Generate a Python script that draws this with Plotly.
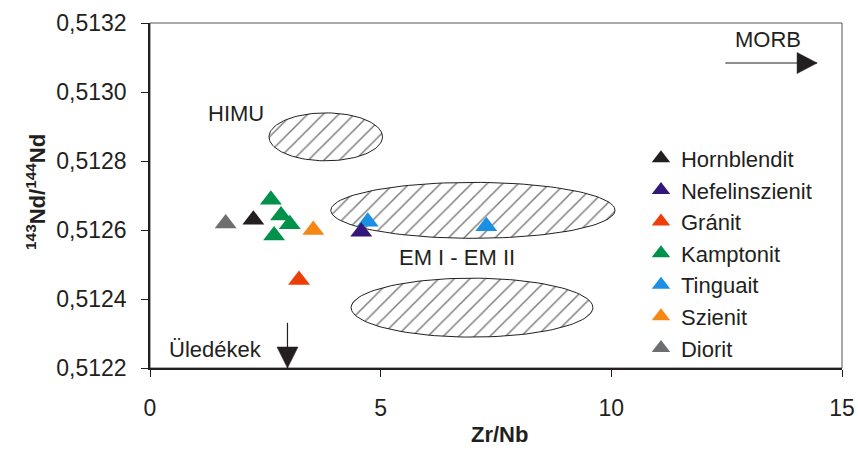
import numpy as np
import plotly.graph_objects as go

# ---- data ----
categories = ["Hornblendit", "Nefelinszienit", "Gránit", "Kamptonit", "Tinguait", "Szienit", "Diorit"]
hornblendit_x = [2.24]
hornblendit_y = [0.51263]
nefelinszienit_x = [4.58]
nefelinszienit_y = [0.512595]
granit_x = [3.23]
granit_y = [0.512455]
kamptonit_x = [2.62, 2.84, 3.03, 2.69]
kamptonit_y = [0.512688, 0.512642, 0.512617, 0.512584]
tinguait_x = [4.72, 7.29]
tinguait_y = [0.512624, 0.512611]
szienit_x = [3.54]
szienit_y = [0.5126]
diorit_x = [1.64]
diorit_y = [0.512619]

y_ticks = [0.5122, 0.5124, 0.5126, 0.5128, 0.5130, 0.5132]
x_ticks = [0, 5, 10, 15]

# reservoir fields (center x, center y, half-width, half-height)
fields = {
    "HIMU": (3.81, 0.512870, 1.23, 0.0000695),
    "EM_upper": (7.00, 0.512657, 3.08, 0.0000811),
    "EM_lower": (6.98, 0.512375, 2.62, 0.0000854),
}

colors = {
    "Hornblendit": "#231F20",
    "Nefelinszienit": "#33187A",
    "Gránit": "#EE3D06",
    "Kamptonit": "#00924A",
    "Tinguait": "#1A8FE3",
    "Szienit": "#F68712",
    "Diorit": "#6D6E70",
}
series = {
    "Hornblendit": (hornblendit_x, hornblendit_y),
    "Nefelinszienit": (nefelinszienit_x, nefelinszienit_y),
    "Gránit": (granit_x, granit_y),
    "Kamptonit": (kamptonit_x, kamptonit_y),
    "Tinguait": (tinguait_x, tinguait_y),
    "Szienit": (szienit_x, szienit_y),
    "Diorit": (diorit_x, diorit_y),
}

# arrows: (tail x, tail y, tip x, tip y)
morb_arrow = (12.47, 0.513084, 14.46, 0.513084)
sediment_arrow = (2.98, 0.512331, 2.98, 0.51220)

FONT = "Liberation Sans, Arial, sans-serif"
TXT = "#231F20"

fig = go.Figure()

# hatched ellipses
t = np.linspace(0, 2 * np.pi, 121)
for name, (cx, cy, a, b) in fields.items():
    fig.add_trace(go.Scatter(
        x=cx + a * np.cos(t), y=cy + b * np.sin(t),
        mode="lines", line=dict(color=TXT, width=1),
        fill="toself", fillcolor="white",
        fillpattern=dict(shape="/", fgcolor="#000000", bgcolor="white", size=11, solidity=0.14),
        showlegend=False, hoverinfo="skip",
    ))

# draw order (purple above blue) with legend order via legendrank
draw_order = ["Hornblendit", "Gránit", "Kamptonit", "Tinguait", "Nefelinszienit", "Szienit", "Diorit"]
for name in draw_order:
    xs, ys = series[name]
    fig.add_trace(go.Scatter(
        x=xs, y=ys, mode="markers", name=name,
        legendrank=categories.index(name) + 1,
        marker=dict(symbol="triangle-up", size=19, color=colors[name], line=dict(width=0)),
    ))

annotations = [
    dict(x=1.87, y=0.512938, text="HIMU", showarrow=False, xref="x", yref="y",
         font=dict(size=22, family=FONT, color=TXT)),
    dict(x=6.65, y=0.512519, text="EM I - EM II", showarrow=False, xref="x", yref="y",
         font=dict(size=22, family=FONT, color=TXT)),
    dict(x=1.43, y=0.512255, text="Üledékek", showarrow=False, xref="x", yref="y",
         font=dict(size=22, family=FONT, color=TXT)),
    dict(x=13.4, y=0.513152, text="MORB", showarrow=False, xref="x", yref="y",
         font=dict(size=22, family=FONT, color=TXT)),
    # axis titles
    dict(x=-0.188, y=0.51, xref="paper", yref="paper", showarrow=False, textangle=-90,
         text="<b><sup>143</sup>Nd/<sup>144</sup>Nd</b>", font=dict(size=22, family=FONT, color=TXT)),
    dict(x=0.505, y=-0.235, xref="paper", yref="paper", showarrow=False,
         text="<b>Zr/Nb</b>", font=dict(size=22, family=FONT, color=TXT)),
]

shapes = [
    dict(type="rect", xref="paper", yref="paper", x0=0, y0=0, x1=1, y1=1,
         line=dict(color="#555555", width=1), layer="below"),
    # MORB arrow shaft + head
    dict(type="line", xref="x", yref="y", x0=morb_arrow[0], y0=morb_arrow[1],
         x1=morb_arrow[2], y1=morb_arrow[3], line=dict(color=TXT, width=1.2)),
    dict(type="path", xref="x", yref="y", xsizemode="pixel", ysizemode="pixel",
         xanchor=morb_arrow[2], yanchor=morb_arrow[3],
         path="M-20,-10.5 L0,0 L-20,10.5 Z", fillcolor=TXT, line=dict(color=TXT, width=0.5)),
    # sediment arrow shaft + head
    dict(type="line", xref="x", yref="y", x0=sediment_arrow[0], y0=sediment_arrow[1],
         x1=sediment_arrow[2], y1=sediment_arrow[3], line=dict(color=TXT, width=1.2)),
    dict(type="path", xref="x", yref="y", xsizemode="pixel", ysizemode="pixel",
         xanchor=sediment_arrow[2], yanchor=sediment_arrow[3],
         path="M-10.5,21 L0,0 L10.5,21 Z", fillcolor=TXT, line=dict(color=TXT, width=0.5)),
]

fig.update_layout(
    width=858, height=458,
    margin=dict(l=150, r=16, t=23, b=90, autoexpand=False),
    paper_bgcolor="white", plot_bgcolor="white",
    separators=", ",
    font=dict(family=FONT, color=TXT, size=23),
    annotations=annotations,
    shapes=shapes,
    legend=dict(x=0.7095, y=0.668, xanchor="left", yanchor="top",
                bgcolor="rgba(0,0,0,0)", font=dict(size=22, family=FONT, color=TXT),
                itemsizing="trace", tracegroupgap=0),
)
fig.update_xaxes(range=[0, 15], tickvals=x_ticks, showgrid=False, zeroline=False,
                 showline=True, linecolor=TXT, linewidth=1.5, ticks="outside", ticklen=7,
                 tickcolor=TXT, tickfont=dict(size=23, family=FONT, color=TXT),
                 ticklabelstandoff=12)
fig.update_yaxes(range=[0.5122, 0.5132], tickvals=y_ticks, tickformat=".4f", showgrid=False,
                 zeroline=False, showline=True, linecolor=TXT, linewidth=1.5, ticks="outside",
                 ticklen=7, tickcolor=TXT, tickfont=dict(size=23, family=FONT, color=TXT),
                 ticklabelstandoff=10)

fig.write_html("out.html")
